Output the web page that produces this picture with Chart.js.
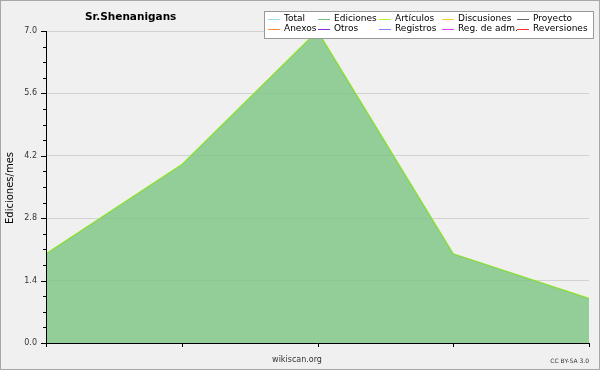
<!DOCTYPE html>
<html>
<head>
<meta charset="utf-8">
<script src="https://cdn.jsdelivr.net/npm/chart.js@4.4.0/dist/chart.umd.min.js"></script>
<style>
  body { margin: 0; background: #f0f0f0; }
  #wrap { width: 600px; height: 370px; position: relative; }
</style>
</head>
<body>
<div id="wrap"><canvas id="chart" width="600" height="370"></canvas></div>
<script>
const title = 'Sr.Shenanigans';
const months = ['1', '2', '3', '4', '5'];
const ediciones = [2, 4, 7, 2, 1];
const articulos = [2, 4, 7, 2, 1];
const yTicks = [0, 1.4, 2.8, 4.2, 5.6, 7.0];
const legendLabels = ['Total', 'Ediciones', 'Artículos', 'Discusiones', 'Proyecto',
                      'Anexos', 'Otros', 'Registros', 'Reg. de adm.', 'Reversiones'];
const legendColors = ['#8ee0e4', '#74c47c', '#b4f02c', '#ffcc33', '#666666',
                      '#ff8844', '#8a2be2', '#7f86ff', '#e040f0', '#ff3030'];

// custom drawing: frame, title, legend, ticks, credits
const decor = {
    id: 'decor',
    afterDraw(chart) {
        const ctx = chart.ctx;
        const area = chart.chartArea;
        const y = chart.scales.y;
        const x = chart.scales.x;
        ctx.save();

        // axis lines
        ctx.strokeStyle = '#000';
        ctx.lineWidth = 1;
        ctx.beginPath();
        ctx.moveTo(area.left + 0.5, area.top);
        ctx.lineTo(area.left + 0.5, area.bottom + 0.5);
        ctx.lineTo(area.right, area.bottom + 0.5);
        ctx.stroke();

        // y ticks, major and minor
        ctx.beginPath();
        for (let i = 0; i <= 20; i++) {
            const py = Math.round(y.getPixelForValue(i * 0.35)) + 0.5;
            const len = i % 4 === 0 ? 5 : 3;
            ctx.moveTo(area.left - len, py);
            ctx.lineTo(area.left, py);
        }
        // x ticks
        months.forEach((m, i) => {
            const px = Math.round(x.getPixelForValue(i)) + 0.5;
            ctx.moveTo(px, area.bottom);
            ctx.lineTo(px, area.bottom + 4);
        });
        ctx.stroke();

        // title
        ctx.fillStyle = '#000';
        ctx.font = 'bold 10.5px "DejaVu Sans"';
        ctx.textBaseline = 'middle';
        ctx.fillText(title, 85, 17);

        // axis title
        ctx.save();
        ctx.translate(10, 188);
        ctx.rotate(-Math.PI / 2);
        ctx.textAlign = 'center';
        ctx.font = '10px "DejaVu Sans"';
        ctx.fillText('Ediciones/mes', 0, 0);
        ctx.restore();

        // credits
        ctx.fillStyle = '#333';
        ctx.font = '8px "DejaVu Sans"';
        ctx.textAlign = 'center';
        ctx.fillText('wikiscan.org', 297, 360);
        ctx.font = '6px "DejaVu Sans"';
        ctx.textAlign = 'right';
        ctx.fillText('CC BY-SA 3.0', 589, 361);

        // legend box
        ctx.fillStyle = '#fff';
        ctx.fillRect(264.5, 11.5, 329, 27);
        ctx.strokeStyle = '#999';
        ctx.strokeRect(264.5, 11.5, 329, 27);
        const colX = [268, 318, 379, 442, 517];
        const rowY = [19, 29];
        ctx.font = '9px "DejaVu Sans"';
        ctx.textAlign = 'left';
        legendLabels.forEach((lab, i) => {
            const cx = colX[i % 5];
            const cy = rowY[Math.floor(i / 5)];
            ctx.strokeStyle = legendColors[i];
            ctx.beginPath();
            ctx.moveTo(cx, cy + 0.5);
            ctx.lineTo(cx + 12, cy + 0.5);
            ctx.stroke();
            ctx.fillStyle = '#000';
            ctx.fillText(lab, cx + 16, cy);
        });

        // outer frame
        ctx.strokeStyle = '#a8a8a8';
        ctx.strokeRect(0.5, 0.5, 599, 369);
        ctx.restore();
    }
};

new Chart(document.getElementById('chart'), {
    type: 'line',
    data: {
        labels: months,
        datasets: [
            {
                label: 'Ediciones',
                data: ediciones,
                borderColor: 'rgba(0,0,0,0)',
                backgroundColor: 'rgba(120,196,128,0.78)',
                fill: 'origin',
                pointRadius: 0,
                tension: 0,
            },
            {
                label: 'Artículos',
                data: articulos,
                borderColor: '#9ef01a',
                borderWidth: 1.5,
                fill: false,
                pointRadius: 0,
                tension: 0,
            },
        ],
    },
    options: {
        responsive: false,
        animation: false,
        layout: { padding: { left: 0, right: 11, top: 31, bottom: 0 } },
        plugins: { legend: { display: false }, tooltip: { enabled: false } },
        scales: {
            x: {
                offset: false,
                grid: { display: false },
                border: { display: false },
                ticks: { display: false },
                afterFit: (s) => { s.height = 27; },
            },
            y: {
                min: 0,
                max: 7,
                afterBuildTicks: (s) => { s.ticks = yTicks.map(v => ({ value: v })); },
                grid: { color: '#d2d2d2', drawTicks: false },
                border: { display: false },
                ticks: {
                    padding: 9,
                    color: '#333',
                    font: { family: 'DejaVu Sans', size: 8 },
                    callback: (v) => Number(v).toFixed(1),
                },
                afterFit: (s) => { s.width = 46; },
            },
        },
    },
    plugins: [decor],
});
</script>
</body>
</html>
